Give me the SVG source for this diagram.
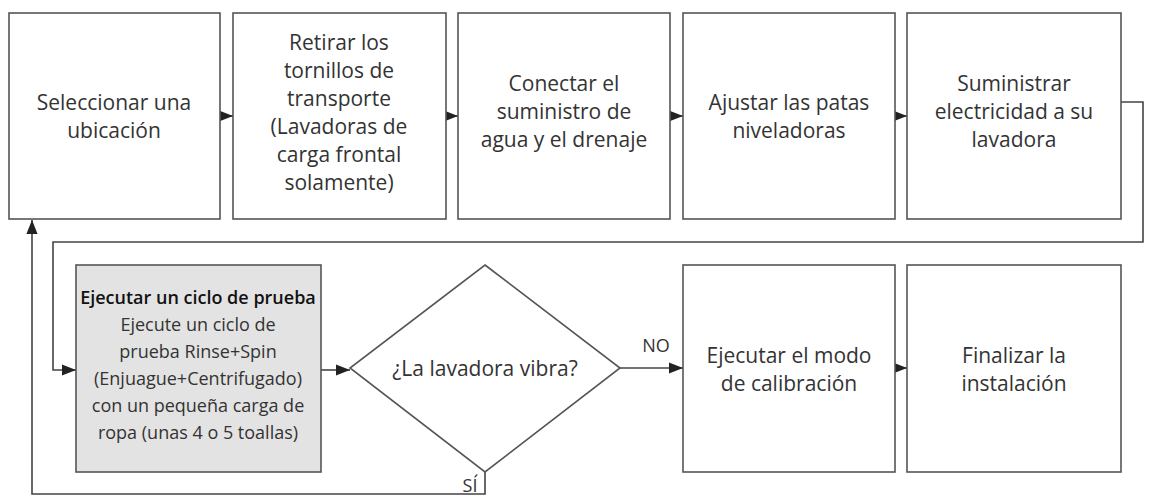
<svg xmlns="http://www.w3.org/2000/svg" width="1153" height="496" viewBox="0 0 1153 496">
<style>
.b{fill:#fff;stroke:#555;stroke-width:1.6}
.g{fill:#e3e3e3;stroke:#555;stroke-width:1.6}
text{font-family:"Open Sans","Liberation Sans",sans-serif;font-size:21px;fill:#333;text-anchor:middle}
.s{font-size:18px}
.t{fill:#111;font-size:18px;font-weight:600}
.c{fill:none;stroke:#444;stroke-width:1.6}
</style>
<defs><marker id="a2" viewBox="0 0 10 10" refX="10" refY="5" markerWidth="14" markerHeight="14" markerUnits="userSpaceOnUse" orient="auto"><path d="M0,1L10,5L0,9z" fill="#222"/></marker></defs>
<g id="connectors">
<path class="c" d="M220,116H233" marker-end="url(#a2)"/>
<path class="c" d="M446,116H458" marker-end="url(#a2)"/>
<path class="c" d="M670,116H683" marker-end="url(#a2)"/>
<path class="c" d="M895,116H907" marker-end="url(#a2)"/>
<path class="c" d="M1121,102H1143V242H53V370H76" marker-end="url(#a2)"/>
<path class="c" d="M321,370H350" marker-end="url(#a2)"/>
<path class="c" d="M620,368H683" marker-end="url(#a2)"/>
<path class="c" d="M895,368H907" marker-end="url(#a2)"/>
<path class="c" d="M485,472V494H32V220" marker-end="url(#a2)"/>
<text x="656" y="352" class="s">NO</text>
<text x="470" y="492" class="s">SÍ</text>
</g>
<g id="n1"><rect class="b" x="9" y="13" width="211" height="206"/><text x="114" y="110">Seleccionar una</text><text x="114" y="138">ubicación</text></g>
<g id="n2"><rect class="b" x="233" y="13" width="213" height="206"/><text x="339" y="50">Retirar los</text><text x="339" y="78">tornillos de</text><text x="339" y="106">transporte</text><text x="339" y="134">(Lavadoras de</text><text x="339" y="162">carga frontal</text><text x="339" y="190">solamente)</text></g>
<g id="n3"><rect class="b" x="458" y="13" width="212" height="206"/><text x="564" y="91">Conectar el</text><text x="564" y="119">suministro de</text><text x="564" y="147">agua y el drenaje</text></g>
<g id="n4"><rect class="b" x="683" y="13" width="212" height="206"/><text x="789" y="110">Ajustar las patas</text><text x="789" y="138">niveladoras</text></g>
<g id="n5"><rect class="b" x="907" y="13" width="214" height="206"/><text x="1014" y="91">Suministrar</text><text x="1014" y="119">electricidad a su</text><text x="1014" y="147">lavadora</text></g>
<g id="n6"><rect class="g" x="76" y="265" width="245" height="207"/><text class="t" x="198" y="304">Ejecutar un ciclo de prueba</text><text class="s" x="198" y="331">Ejecute un ciclo de</text><text class="s" x="198" y="358">prueba Rinse+Spin</text><text class="s" x="198" y="385">(Enjuague+Centrifugado)</text><text class="s" x="198" y="412">con un pequeña carga de</text><text class="s" x="198" y="439">ropa (unas 4 o 5 toallas)</text></g>
<g id="n7"><polygon class="b" points="485,265 620,368 485,472 350,368"/><text x="485" y="376">¿La lavadora vibra?</text></g>
<g id="n8"><rect class="b" x="683" y="265" width="212" height="207"/><text x="789" y="363">Ejecutar el modo</text><text x="789" y="391">de calibración</text></g>
<g id="n9"><rect class="b" x="907" y="265" width="214" height="207"/><text x="1014" y="363">Finalizar la</text><text x="1014" y="391">instalación</text></g>
</svg>
